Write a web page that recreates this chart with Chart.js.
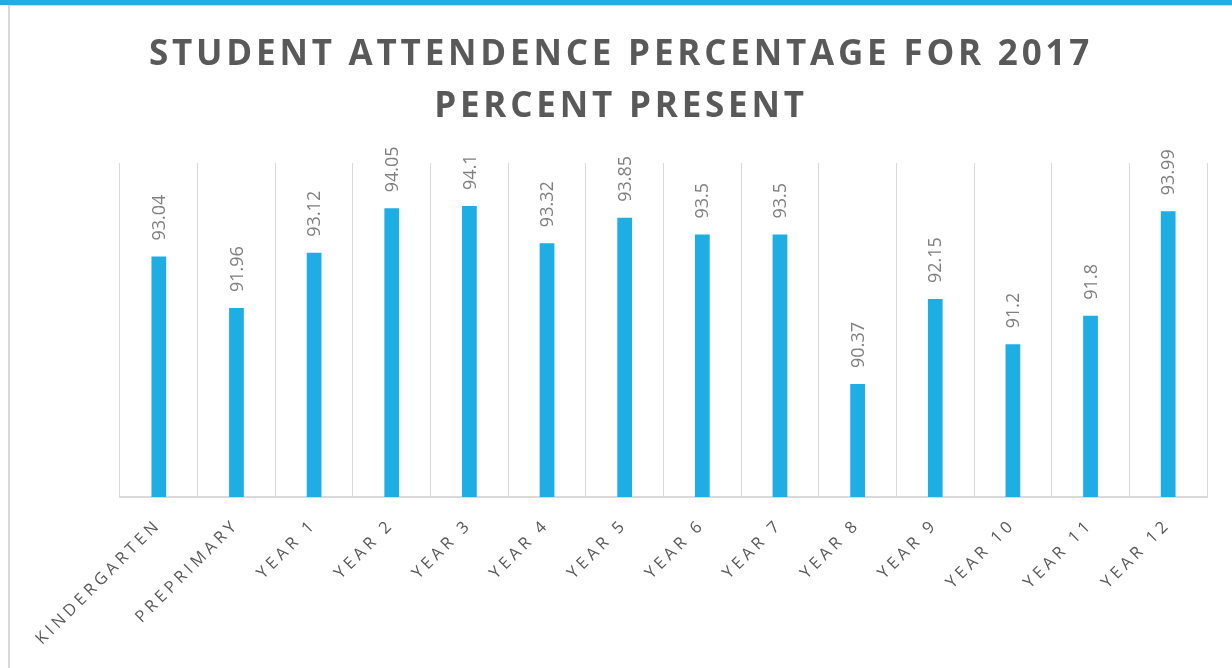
<!DOCTYPE html>
<html>
<head>
<meta charset="utf-8">
<script src="https://cdn.jsdelivr.net/npm/chart.js@4.4.1/dist/chart.umd.min.js"></script>
<style>
  html, body { margin: 0; padding: 0; background: #fff; }
  body { width: 1232px; height: 668px; overflow: hidden; position: relative; }
  #topband { position: absolute; left: 0; top: 0; width: 1232px; height: 5px; background: #1eaee4; }
  #frame { position: absolute; left: 8px; top: 5px; width: 1224px; height: 663px;
           border-left: 2px solid #d9d9d9; border-top: 1px solid #d9d9d9; box-sizing: border-box; }
  #title { position: absolute; left: 10px; width: 1222px; top: 26px; text-align: center;
           font-family: "Open Sans", sans-serif; font-weight: bold; font-size: 35px;
           line-height: 52px; letter-spacing: 3.8px; color: #595959; }
  #chart { position: absolute; left: 0; top: 0; }
</style>
</head>
<body>
<div id="topband"></div>
<div id="frame"></div>
<canvas id="chart" width="1232" height="668"></canvas>
<div id="title">STUDENT ATTENDENCE PERCENTAGE FOR 2017<br>PERCENT PRESENT</div>
<script>
const categories = ['KINDERGARTEN', 'PREPRIMARY', 'YEAR 1', 'YEAR 2', 'YEAR 3', 'YEAR 4', 'YEAR 5',
    'YEAR 6', 'YEAR 7', 'YEAR 8', 'YEAR 9', 'YEAR 10', 'YEAR 11', 'YEAR 12'];
const percentPresent = [93.04, 91.96, 93.12, 94.05, 94.1, 93.32, 93.85, 93.5, 93.5, 90.37, 92.15, 91.2, 91.8, 93.99];
const yMin = 88;
const yMax = 95;

// canvas letter spacing for the category labels
const spacing = {
    id: 'spacing',
    beforeLayout(chart) { chart.ctx.letterSpacing = '4px'; },
    beforeDraw(chart) { chart.ctx.letterSpacing = '4px'; }
};

// rotated value labels above each bar
const valueLabels = {
    id: 'valueLabels',
    afterDatasetsDraw(chart) {
        const ctx = chart.ctx;
        const meta = chart.getDatasetMeta(0);
        ctx.save();
        ctx.letterSpacing = '0px';
        ctx.font = '18px "Open Sans", sans-serif';
        ctx.fillStyle = '#7f7f7f';
        ctx.textAlign = 'left';
        ctx.textBaseline = 'middle';
        meta.data.forEach((bar, i) => {
            ctx.save();
            ctx.translate(bar.x + 1, bar.y - 16);
            ctx.rotate(-Math.PI / 2);
            ctx.fillText(String(percentPresent[i]), 0, 0);
            ctx.restore();
        });
        ctx.restore();
    }
};

const ctx = document.getElementById('chart').getContext('2d');
const chart = new Chart(ctx, {
    type: 'bar',
    data: {
        labels: categories,
        datasets: [{
            label: 'Percent Present',
            data: percentPresent,
            backgroundColor: '#1eaee4',
            borderWidth: 0,
            barPercentage: 0.19,
            categoryPercentage: 1
        }]
    },
    options: {
        responsive: false,
        devicePixelRatio: 1,
        animation: false,
        layout: { padding: { top: 163, left: 120, right: 25, bottom: 0 } },
        plugins: {
            legend: { display: false },
            tooltip: { enabled: false }
        },
        scales: {
            x: {
                grid: { color: '#d9d9d9', lineWidth: 1, drawTicks: false, offset: true },
                border: { color: '#d9d9d9', width: 2 },
                ticks: {
                    color: '#595959',
                    font: { family: '"Open Sans", sans-serif', size: 16.5 },
                    minRotation: 45,
                    maxRotation: 45,
                    padding: 18,
                    autoSkip: false
                },
                afterFit(scale) {
                    scale.height = 171;
                    scale.paddingLeft = 0;
                    scale.paddingRight = 0;
                }
            },
            y: {
                display: false,
                min: yMin,
                max: yMax
            }
        }
    },
    plugins: [spacing, valueLabels]
});
</script>
</body>
</html>
